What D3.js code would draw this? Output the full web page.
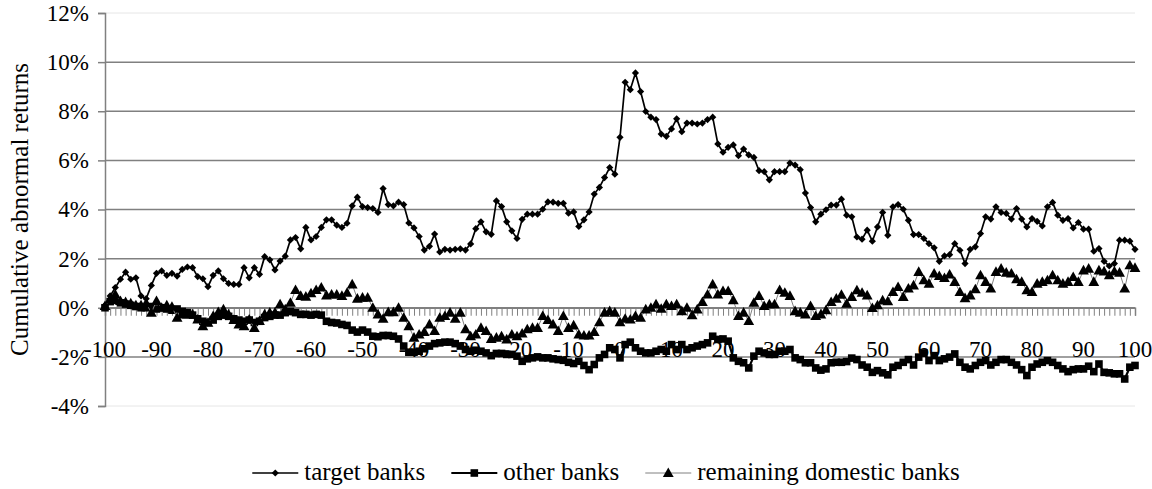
<!DOCTYPE html>
<html><head><meta charset="utf-8">
<script src="https://cdn.jsdelivr.net/npm/d3@7"></script>
<style>
body{margin:0;background:#fff}
svg{display:block}
text{font-family:"Liberation Serif","Times New Roman",serif;fill:#000}
</style>
</head><body>
<svg id="chart" width="1152" height="489"></svg>
<script>
// ---- data ----
const days = d3.range(-100, 101);               // event days (categories)
const xTickLabels = [-100,-90,-80,-70,-60,-50,-40,-30,-20,-10,0,10,20,30,40,50,60,70,80,90,100];
const yTickValues = [-4,-2,0,2,4,6,8,10,12];
const seriesNames = ["target banks","other banks","remaining domestic banks"];

const targetBanks = [
 0.10,0.48,0.82,1.16,1.45,1.16,1.22,0.48,0.37,0.91,
 1.40,1.50,1.32,1.40,1.29,1.56,1.66,1.63,1.27,1.18,
 0.86,1.32,1.50,1.18,0.99,0.95,0.95,1.63,1.22,1.63,
 1.36,2.08,1.95,1.54,1.90,2.10,2.76,2.86,2.40,3.27,
 2.76,2.90,3.27,3.58,3.58,3.36,3.27,3.44,4.15,4.50,
 4.12,4.08,4.04,3.88,4.85,4.20,4.15,4.30,4.20,3.45,
 3.25,2.90,2.35,2.50,3.00,2.27,2.38,2.35,2.38,2.40,
 2.35,2.60,3.22,3.50,3.09,2.99,4.35,4.12,3.50,3.13,
 2.82,3.60,3.81,3.81,3.81,4.01,4.31,4.30,4.25,4.25,
 3.85,3.90,3.31,3.58,3.90,4.63,4.90,5.30,5.71,5.44,
 6.94,9.18,8.88,9.56,8.80,7.99,7.76,7.66,7.07,6.98,
 7.28,7.69,7.17,7.52,7.52,7.48,7.52,7.66,7.76,6.67,
 6.33,6.53,6.63,6.19,6.46,6.22,6.12,5.58,5.54,5.21,
 5.54,5.54,5.54,5.89,5.81,5.62,4.67,4.08,3.50,3.81,
 3.99,4.18,4.18,4.42,3.77,3.70,2.88,2.79,3.16,2.71,
 3.29,3.88,2.95,4.11,4.20,4.01,3.56,2.98,2.98,2.82,
 2.61,2.44,1.89,2.11,2.16,2.61,2.34,1.80,2.38,2.48,
 3.02,3.70,3.61,4.11,3.88,3.84,3.61,4.04,3.61,3.29,
 3.63,3.52,3.33,4.11,4.29,3.77,3.56,3.63,3.25,3.47,
 3.20,3.20,2.30,2.41,1.89,1.70,1.80,2.75,2.75,2.71,2.38
];
const otherBanks = [
 0.00,0.25,0.30,0.20,0.15,0.10,0.05,0.00,0.00,0.05,
 -0.05,0.00,-0.05,-0.10,-0.05,-0.15,-0.20,-0.30,-0.45,-0.55,
 -0.60,-0.50,-0.35,-0.30,-0.35,-0.45,-0.50,-0.55,-0.50,-0.60,
 -0.55,-0.40,-0.35,-0.30,-0.30,-0.20,-0.15,-0.20,-0.27,-0.27,
 -0.30,-0.27,-0.30,-0.55,-0.60,-0.62,-0.68,-0.72,-0.91,-0.99,
 -0.91,-0.99,-1.16,-1.18,-1.13,-1.13,-1.16,-1.27,-1.56,-1.81,
 -1.81,-1.77,-1.67,-1.56,-1.46,-1.43,-1.40,-1.40,-1.46,-1.56,
 -1.70,-1.77,-1.73,-1.77,-1.84,-1.95,-1.86,-1.86,-1.90,-1.90,
 -1.97,-2.18,-2.08,-2.04,-2.00,-2.04,-2.04,-2.08,-2.11,-2.14,
 -2.22,-2.27,-2.18,-2.35,-2.52,-2.31,-2.04,-1.90,-1.63,-1.70,
 -2.04,-1.50,-1.40,-1.63,-1.77,-1.84,-1.84,-1.77,-1.70,-1.77,
 -1.50,-1.70,-1.50,-1.70,-1.63,-1.56,-1.50,-1.43,-1.16,-1.29,
 -1.27,-1.36,-2.04,-2.18,-2.24,-2.45,-1.97,-1.77,-1.84,-1.90,
 -1.90,-1.77,-1.77,-1.70,-2.04,-2.11,-2.24,-2.24,-2.45,-2.54,
 -2.49,-2.24,-2.22,-2.22,-2.19,-2.05,-2.11,-2.33,-2.42,-2.63,
 -2.56,-2.65,-2.73,-2.42,-2.35,-2.22,-2.11,-2.33,-2.01,-1.84,
 -2.15,-1.95,-2.15,-2.08,-2.01,-1.88,-2.22,-2.42,-2.49,-2.35,
 -2.22,-2.15,-2.33,-2.22,-2.11,-2.11,-2.22,-2.33,-2.52,-2.76,
 -2.42,-2.29,-2.22,-2.15,-2.22,-2.35,-2.49,-2.60,-2.52,-2.49,
 -2.49,-2.38,-2.60,-2.29,-2.63,-2.65,-2.69,-2.69,-2.90,-2.42,-2.35
];
const remainingBanks = [
 0.07,0.34,0.54,0.27,0.23,0.18,0.10,0.10,0.18,-0.20,
 0.27,0.00,0.10,0.04,-0.41,-0.27,-0.27,-0.27,-0.48,-0.75,
 -0.61,-0.34,-0.18,-0.07,-0.27,-0.50,-0.68,-0.75,-0.48,-0.82,
 -0.54,-0.27,-0.20,-0.20,0.14,-0.07,0.20,0.72,0.48,0.45,
 0.59,0.72,0.82,0.50,0.54,0.54,0.48,0.61,0.95,0.37,
 0.41,0.41,0.00,-0.27,-0.45,-0.18,-0.18,0.00,-0.41,-0.75,
 -1.22,-1.09,-0.99,-0.68,-0.95,-0.41,-0.34,-0.20,-0.45,-0.20,
 -0.88,-1.16,-1.09,-0.82,-0.95,-1.27,-1.22,-1.16,-1.29,-1.09,
 -1.16,-1.05,-0.88,-0.82,-0.82,-0.34,-0.50,-0.68,-0.95,-0.34,
 -0.82,-0.72,-1.09,-1.13,-1.13,-0.99,-0.59,-0.20,-0.14,-0.20,
 -0.59,-0.45,-0.48,-0.34,-0.41,-0.07,0.00,0.14,-0.04,0.14,
 0.07,0.14,-0.14,0.00,-0.31,-0.07,0.23,0.54,0.95,0.54,
 0.68,0.68,0.31,-0.34,-0.20,-0.54,0.20,0.48,0.07,0.14,
 0.14,0.72,0.61,0.48,-0.14,-0.20,-0.27,0.07,-0.34,-0.27,
 -0.10,0.23,0.37,0.53,0.16,0.44,0.71,0.61,0.50,-0.01,
 0.10,0.30,0.26,0.64,0.84,0.44,0.78,0.91,1.46,1.12,
 0.98,1.39,1.29,1.21,1.35,1.05,0.64,0.39,0.50,0.75,
 1.32,1.05,0.78,1.46,1.59,1.43,1.39,1.16,1.05,0.71,
 0.64,0.98,1.05,1.12,1.32,1.12,0.98,1.05,1.25,1.05,
 1.52,1.59,1.05,1.52,1.48,1.32,1.48,1.43,0.78,1.73,1.62
];

// ---- layout ----
const svg = d3.select("#chart");
const plotL = 105, plotR = 1135, plotT = 13, plotB = 406;
const x = d3.scalePoint().domain(days).range([plotL, plotR]);
const y = d3.scaleLinear().domain([-4, 12]).range([plotB, plotT]);
const grid = "#808080";
const FS_TICK = 23, FS_TITLE = 25, FS_LEG = 25;

// gridlines
svg.append("g").selectAll("line").data(yTickValues).join("line")
  .attr("x1", plotL).attr("x2", plotR)
  .attr("y1", d => y(d)).attr("y2", d => y(d))
  .attr("stroke", d => (d === 12 || d === -4) ? "#e6e6e6" : grid)
  .attr("stroke-width", d => (d === 12 || d === -4) ? 1 : 1.5);

// y axis
const yAxis = d3.axisLeft(y).tickValues(yTickValues).tickSize(7).tickPadding(9)
  .tickFormat(d => d + "%");
const gy = svg.append("g").attr("transform", `translate(${plotL},0)`).call(yAxis);
gy.select(".domain").attr("stroke", grid).attr("stroke-width", 1.5);
gy.selectAll(".tick line").attr("stroke", grid).attr("stroke-width", 1.5);
gy.selectAll(".tick text").attr("font-size", FS_TICK).attr("font-family", "Liberation Serif").attr("fill", "#000");

// x axis at 0%
const xAxis = d3.axisBottom(x).tickValues(days).tickSize(8).tickFormat("");
const gx = svg.append("g").attr("transform", `translate(0,${y(0)})`).call(xAxis);
gx.select(".domain").attr("stroke", grid).attr("stroke-width", 1.5);
gx.selectAll(".tick line").attr("stroke", grid).attr("stroke-width", 1);

// x labels
svg.append("g").selectAll("text").data(xTickLabels).join("text")
  .attr("x", d => x(d)).attr("y", y(-2))
  .attr("text-anchor", "middle").attr("font-size", FS_TICK)
  .text(d => d);

// y title
svg.append("text")
  .attr("transform", `translate(28,${(plotT + plotB) / 2}) rotate(-90)`)
  .attr("text-anchor", "middle").attr("font-size", FS_TITLE)
  .text("Cumulative abnormal returns");

// ---- series ----
const mk = arr => days.map((d, i) => ({d, v: arr[i]}));
const line = d3.line().x(p => x(p.d)).y(p => y(p.v));
const diamond = "M0,-3.6L3.6,0L0,3.6L-3.6,0Z";
const square = "M-3.8,-3.8H3.8V3.8H-3.8Z";
const tri = "M0,-5.6L5.4,4L-5.4,4Z";
const series = [
  {name: seriesNames[0], data: mk(targetBanks), stroke: "#000", sw: 1.7, marker: diamond},
  {name: seriesNames[1], data: mk(otherBanks), stroke: "#000", sw: 2.2, marker: square},
  {name: seriesNames[2], data: mk(remainingBanks), stroke: "#808080", sw: 1, marker: tri}
];
series.forEach(s => {
  const g = svg.append("g");
  g.append("path").datum(s.data).attr("d", line)
    .attr("fill", "none").attr("stroke", s.stroke).attr("stroke-width", s.sw);
  g.selectAll("path.m").data(s.data).join("path").attr("class", "m")
    .attr("transform", p => `translate(${x(p.d)},${y(p.v)})`)
    .attr("d", s.marker).attr("fill", "#000");
});

// ---- legend ----
const leg = svg.append("g");
const ly = 473, sample = 46, gapT = 6, gapE = 26;
let cx = 0;
series.forEach(s => {
  const g = leg.append("g").attr("transform", `translate(${cx},0)`);
  g.append("line").attr("x1", 0).attr("x2", sample).attr("y1", ly).attr("y2", ly)
    .attr("stroke", s.stroke).attr("stroke-width", s.sw);
  g.append("path").attr("d", s.marker).attr("transform", `translate(${sample/2},${ly})`).attr("fill", "#000");
  const t = g.append("text").attr("x", sample + gapT).attr("y", ly + 7).attr("font-size", FS_LEG).text(s.name);
  const w = t.node().getComputedTextLength();
  cx += sample + gapT + w + gapE;
});
const total = cx - gapE;
leg.attr("transform", `translate(${606 - total / 2},0)`);
</script>
</body></html>
